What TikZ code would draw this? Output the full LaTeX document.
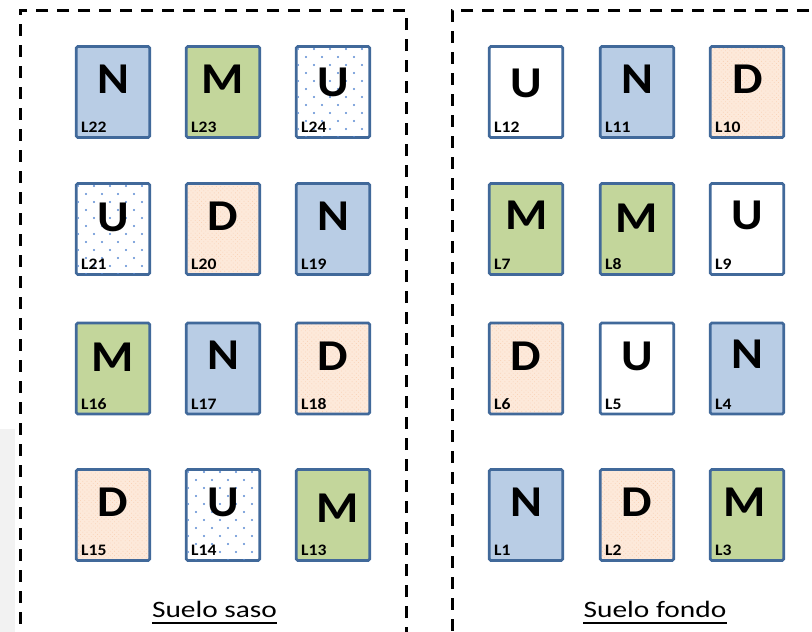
\documentclass[tikz,border=0pt]{standalone}
\usepackage{fontspec}
\setmainfont{Carlito}
\newfontfamily\tilefont[FakeStretch=1.1]{Carlito}
\newfontfamily\capfont[FakeStretch=1.25]{Carlito}
\usetikzlibrary{patterns.meta}

\definecolor{tileline}{HTML}{41699A}
\definecolor{nblue}{HTML}{B9CDE5}
\definecolor{mgreen}{HTML}{C3D69B}
\definecolor{dpeach}{HTML}{FDE9DA}
\definecolor{dweave}{HTML}{F9D3B8}
\definecolor{udots}{HTML}{5A8AD2}
\definecolor{sidegray}{HTML}{F2F2F2}

\tikzset{
  tilebox/.style={draw=tileline, line width=2.6pt, rounded corners=1.5pt,
    minimum width=73.5pt, minimum height=91pt, inner sep=0pt},
  nfill/.style={fill=nblue},
  mfill/.style={fill=mgreen},
  dfill/.style={preaction={fill=dpeach}, pattern color=dweave,
    pattern={Dots[distance=3pt, angle=45, radius=0.55pt]}},
  uplain/.style={fill=white},
  udot/.style={fill=udots},
  bigletter/.style={font=\tilefont\bfseries\fontsize{44}{44}\selectfont,
    inner sep=0pt, anchor=base},
  tagtext/.style={font=\tilefont\bfseries\fontsize{16}{16}\selectfont,
    inner sep=0pt, anchor=base west},
  fieldframe/.style={draw=black, line width=3pt, dash pattern=on 12pt off 9pt},
  caption/.style={font=\capfont\fontsize{23.5}{23.5}\selectfont,
    inner sep=0pt, anchor=base},
  underbar/.style={line width=2pt}
}

% \plot{name}{x}{y}{fill style}{letter}{letter dx}{letter baseline dy}
\newcommand\plot[7]{%
  \node[tilebox,#4] (#1) at (#2,#3) {};
  \node[bigletter] (#1-k) at ({#2+#6},{#3+#7}) {#5};
  \node[tagtext] (#1-t) at ([xshift=6pt,yshift=6pt]#1.south west) {#1};
}

% \dotplot{name}{x}{y}{letter}{letter dx}{letter baseline dy}: white plot strewn with blue dots
\newcommand\dotplot[6]{%
  \node[tilebox,uplain] (#1) at (#2,#3) {};
  \begin{scope}
    \clip ({#2-35.4},{#3-44.2}) rectangle ({#2+35.4},{#3+44.2});
    \foreach \r in {0,...,11} {
      \foreach \c in {0,...,5} {
        \fill[udot] ({#2-35+16*\c+8*mod(\r,2)},{#3-43+8*\r}) circle (1.15);
      }
    }
  \end{scope}
  \node[bigletter] (#1-k) at ({#2+#5},{#3+#6}) {#4};
  \node[tagtext] (#1-t) at ([xshift=6pt,yshift=6pt]#1.south west) {#1};
}

\begin{document}
\begin{tikzpicture}[x=1pt,y=-1pt]
  \useasboundingbox (0,0) rectangle (812,632);

  % grey strip at the left edge
  \fill[sidegray] (0,429) rectangle (15,632);

  % the two fields
  \draw[fieldframe] (406,660) -- (406,10) -- (20,10) -- (20,660);
  \draw[fieldframe] (830,10) -- (452,10) -- (452,660);

  % Suelo saso
  \plot{L22}{113}{92}{nfill}{N}{0}{1}
  \plot{L23}{223}{92}{mfill}{M}{0}{1}
  \dotplot{L24}{333}{92}{U}{0}{4}
  \dotplot{L21}{113}{229}{U}{0}{2}
  \plot{L20}{223}{229}{dfill}{D}{0}{1}
  \plot{L19}{333}{229}{nfill}{N}{0}{1}
  \plot{L16}{113}{368.5}{mfill}{M}{0}{3}
  \plot{L17}{223}{368.5}{nfill}{N}{0}{1}
  \plot{L18}{333}{368.5}{dfill}{D}{0}{2}
  \plot{L15}{113}{515}{dfill}{D}{0}{1}
  \dotplot{L14}{223}{515}{U}{0}{1}
  \plot{L13}{333}{515}{mfill}{M}{5}{7}

  % Suelo fondo
  \plot{L12}{526}{92}{uplain}{U}{0}{5}
  \plot{L11}{637}{92}{nfill}{N}{0}{1}
  \plot{L10}{747}{92}{dfill}{D}{1}{1}
  \plot{L7}{526}{229}{mfill}{M}{1}{0}
  \plot{L8}{637}{229}{mfill}{M}{0}{3}
  \plot{L9}{747}{229}{uplain}{U}{0}{0}
  \plot{L6}{526}{368.5}{dfill}{D}{0}{2}
  \plot{L5}{637}{368.5}{uplain}{U}{0}{2}
  \plot{L4}{747}{368.5}{nfill}{N}{0}{0}
  \plot{L1}{526}{515}{nfill}{N}{0}{1}
  \plot{L2}{637}{515}{dfill}{D}{0}{1}
  \plot{L3}{747}{515}{mfill}{M}{-2}{1}

  % field names
  \node[caption] (saso) at (214.5,617.5) {Suelo saso};
  \draw[underbar] ([yshift=-5.5pt]saso.base west) -- ([yshift=-5.5pt]saso.base east);
  \node[caption] (fondo) at (655,617.5) {Suelo fondo};
  \draw[underbar] ([yshift=-5.5pt]fondo.base west) -- ([yshift=-5.5pt]fondo.base east);
\end{tikzpicture}
\end{document}
